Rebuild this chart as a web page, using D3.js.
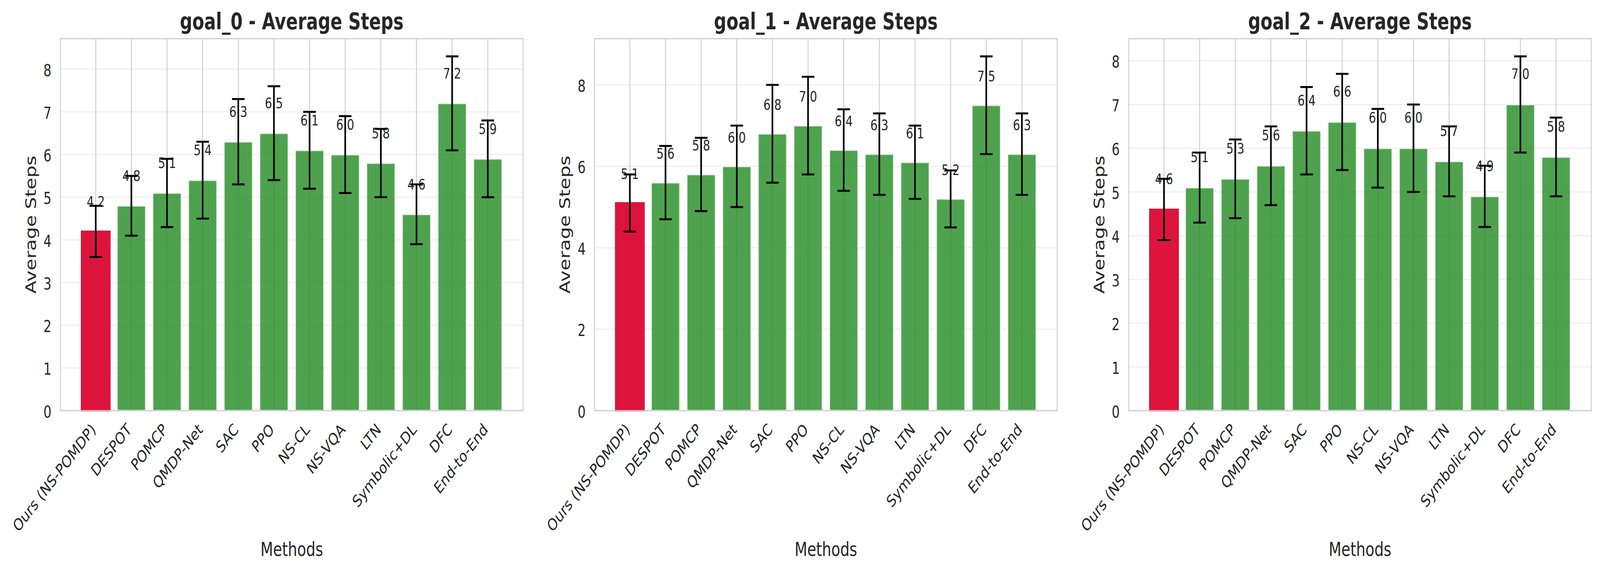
<!DOCTYPE html>
<html>
<head>
<meta charset="utf-8">
<script src="https://cdn.jsdelivr.net/npm/d3@7/dist/d3.min.js"></script>
<style>
  html, body { margin: 0; padding: 0; background: #ffffff; overflow: hidden; }
  svg { display: block; width: 100vw; height: 100vh; }
  text { font-family: "DejaVu Sans", sans-serif; fill: #262626; }
</style>
</head>
<body>
<script>
// ---------------- data ----------------
const methods = ["Ours (NS-POMDP)", "DESPOT", "POMCP", "QMDP-Net", "SAC", "PPO",
                 "NS-CL", "NS-VQA", "LTN", "Symbolic+DL", "DFC", "End-to-End"];
const goalNames = ["goal_0", "goal_1", "goal_2"];

const goal0Mean = [4.2, 4.8, 5.1, 5.4, 6.3, 6.5, 6.1, 6.0, 5.8, 4.6, 7.2, 5.9];
const goal0Std  = [0.6, 0.7, 0.8, 0.9, 1.0, 1.1, 0.9, 0.9, 0.8, 0.7, 1.1, 0.9];

const goal1Mean = [5.1, 5.6, 5.8, 6.0, 6.8, 7.0, 6.4, 6.3, 6.1, 5.2, 7.5, 6.3];
const goal1Std  = [0.7, 0.9, 0.9, 1.0, 1.2, 1.2, 1.0, 1.0, 0.9, 0.7, 1.2, 1.0];

const goal2Mean = [4.6, 5.1, 5.3, 5.6, 6.4, 6.6, 6.0, 6.0, 5.7, 4.9, 7.0, 5.8];
const goal2Std  = [0.7, 0.8, 0.9, 0.9, 1.0, 1.1, 0.9, 1.0, 0.8, 0.7, 1.1, 0.9];

const yTicks0 = [0, 1, 2, 3, 4, 5, 6, 7, 8];
const yTicks1 = [0, 2, 4, 6, 8];
const yTicks2 = [0, 1, 2, 3, 4, 5, 6, 7, 8];

const panels = [
  { name: goalNames[0], mean: goal0Mean, std: goal0Std, ticks: yTicks0 },
  { name: goalNames[1], mean: goal1Mean, std: goal1Std, ticks: yTicks1 },
  { name: goalNames[2], mean: goal2Mean, std: goal2Std, ticks: yTicks2 }
];

// ---------------- layout ----------------
const W = 5347, H = 1464;
const panelLefts = [202, 1987, 3772];
const panelW = 1546;
const plotTop = 99, plotBottom = 1051;
const oursColor = "#DC143C";
const otherColor = "#228B22";
const gridV = "#cccccc";
const gridH = "#efefef";
const spineColor = "#cccccc";

// drawing is laid out on a 5347 x 1464 canvas and fitted to the window
const svg = d3.select("body").append("svg")
  .attr("viewBox", `0 0 ${W} ${H}`)
  .attr("preserveAspectRatio", "none");
svg.append("rect").attr("width", W).attr("height", H).attr("fill", "#ffffff");

panels.forEach((p, pi) => {
  const left = panelLefts[pi];
  const right = left + panelW;
  const g = svg.append("g");

  const x = d3.scaleBand().domain(methods).range([left, right])
    .paddingInner(0.2).paddingOuter(0.59);
  const ymax = d3.max(p.mean.map((m, i) => m + p.std[i])) * 1.05;
  const y = d3.scaleLinear().domain([0, ymax]).range([plotBottom, plotTop]);
  const xc = m => x(m) + x.bandwidth() / 2;

  // horizontal grid
  g.append("g").selectAll("line").data(p.ticks).join("line")
    .attr("x1", left).attr("x2", right)
    .attr("y1", d => y(d)).attr("y2", d => y(d))
    .attr("stroke", gridH).attr("stroke-width", 3);
  // vertical grid
  g.append("g").selectAll("line").data(methods).join("line")
    .attr("x1", d => xc(d)).attr("x2", d => xc(d))
    .attr("y1", plotTop).attr("y2", plotBottom)
    .attr("stroke", gridV).attr("stroke-width", 3);

  const data = methods.map((m, i) => ({ m, v: p.mean[i], e: p.std[i], i }));

  // bars
  g.append("g").selectAll("rect").data(data).join("rect")
    .attr("x", d => x(d.m)).attr("width", x.bandwidth())
    .attr("y", d => y(d.v)).attr("height", d => y(0) - y(d.v))
    .attr("fill", d => d.i === 0 ? oursColor : otherColor)
    .attr("fill-opacity", d => d.i === 0 ? 1 : 0.8)
    .attr("stroke", d => d.i === 0 ? oursColor : "#ffffff")
    .attr("stroke-opacity", d => d.i === 0 ? 1 : 0.8)
    .attr("stroke-width", 4.2);

  // value labels
  g.append("g").selectAll("text").data(data).join("text")
    .attr("x", d => xc(d.m))
    .attr("y", d => y(d.v + 0.5) - 9)
    .attr("text-anchor", "middle")
    .attr("font-size", 38)
    .text(d => d.v.toFixed(1));

  // error bars
  const eb = g.append("g").selectAll("g").data(data).join("g");
  eb.append("line")
    .attr("x1", d => xc(d.m)).attr("x2", d => xc(d.m))
    .attr("y1", d => y(d.v - d.e)).attr("y2", d => y(d.v + d.e))
    .attr("stroke", "#000").attr("stroke-width", 5.5);
  [-1, 1].forEach(s => {
    eb.append("line")
      .attr("x1", d => xc(d.m) - 21).attr("x2", d => xc(d.m) + 21)
      .attr("y1", d => y(d.v + s * d.e)).attr("y2", d => y(d.v + s * d.e))
      .attr("stroke", "#000").attr("stroke-width", 5);
  });

  // spines
  g.append("rect")
    .attr("x", left).attr("y", plotTop).attr("width", panelW).attr("height", plotBottom - plotTop)
    .attr("fill", "none").attr("stroke", spineColor).attr("stroke-width", 3);

  // y axis
  const yAxis = d3.axisLeft(y).tickValues(p.ticks).tickSize(0).tickPadding(30)
    .tickFormat(d3.format("d"));
  const ya = g.append("g").attr("transform", `translate(${left},0)`).call(yAxis);
  ya.select(".domain").remove();
  ya.selectAll("text")
    .attr("font-size", 42).attr("fill", "#262626")
    .attr("font-family", "DejaVu Sans")
    .attr("dy", null).attr("y", 17);

  // x axis
  const xAxis = d3.axisBottom(x).tickSize(0);
  const xa = g.append("g").attr("transform", `translate(0,${plotBottom})`).call(xAxis);
  xa.select(".domain").remove();
  xa.selectAll(".tick text")
    .attr("font-size", 42).attr("fill", "#262626")
    .attr("font-family", "DejaVu Sans")
    .attr("text-anchor", "end")
    .attr("dy", null)
    .attr("y", 0).attr("x", 0)
    .attr("transform", "translate(3,51) rotate(-45)");

  // title
  g.append("text")
    .attr("x", (left + right) / 2).attr("y", 75)
    .attr("text-anchor", "middle")
    .attr("font-size", 58).attr("font-weight", "bold")
    .text(`${p.name} - Average Steps`);

  // axis labels
  g.append("text")
    .attr("x", (left + right) / 2).attr("y", 1423)
    .attr("text-anchor", "middle").attr("font-size", 49)
    .text("Methods");
  g.append("text")
    .attr("transform", `translate(${left - 82},${(plotTop + plotBottom) / 2}) rotate(-90)`)
    .attr("text-anchor", "middle").attr("font-size", 49)
    .text("Average Steps");
});
</script>
</body>
</html>
